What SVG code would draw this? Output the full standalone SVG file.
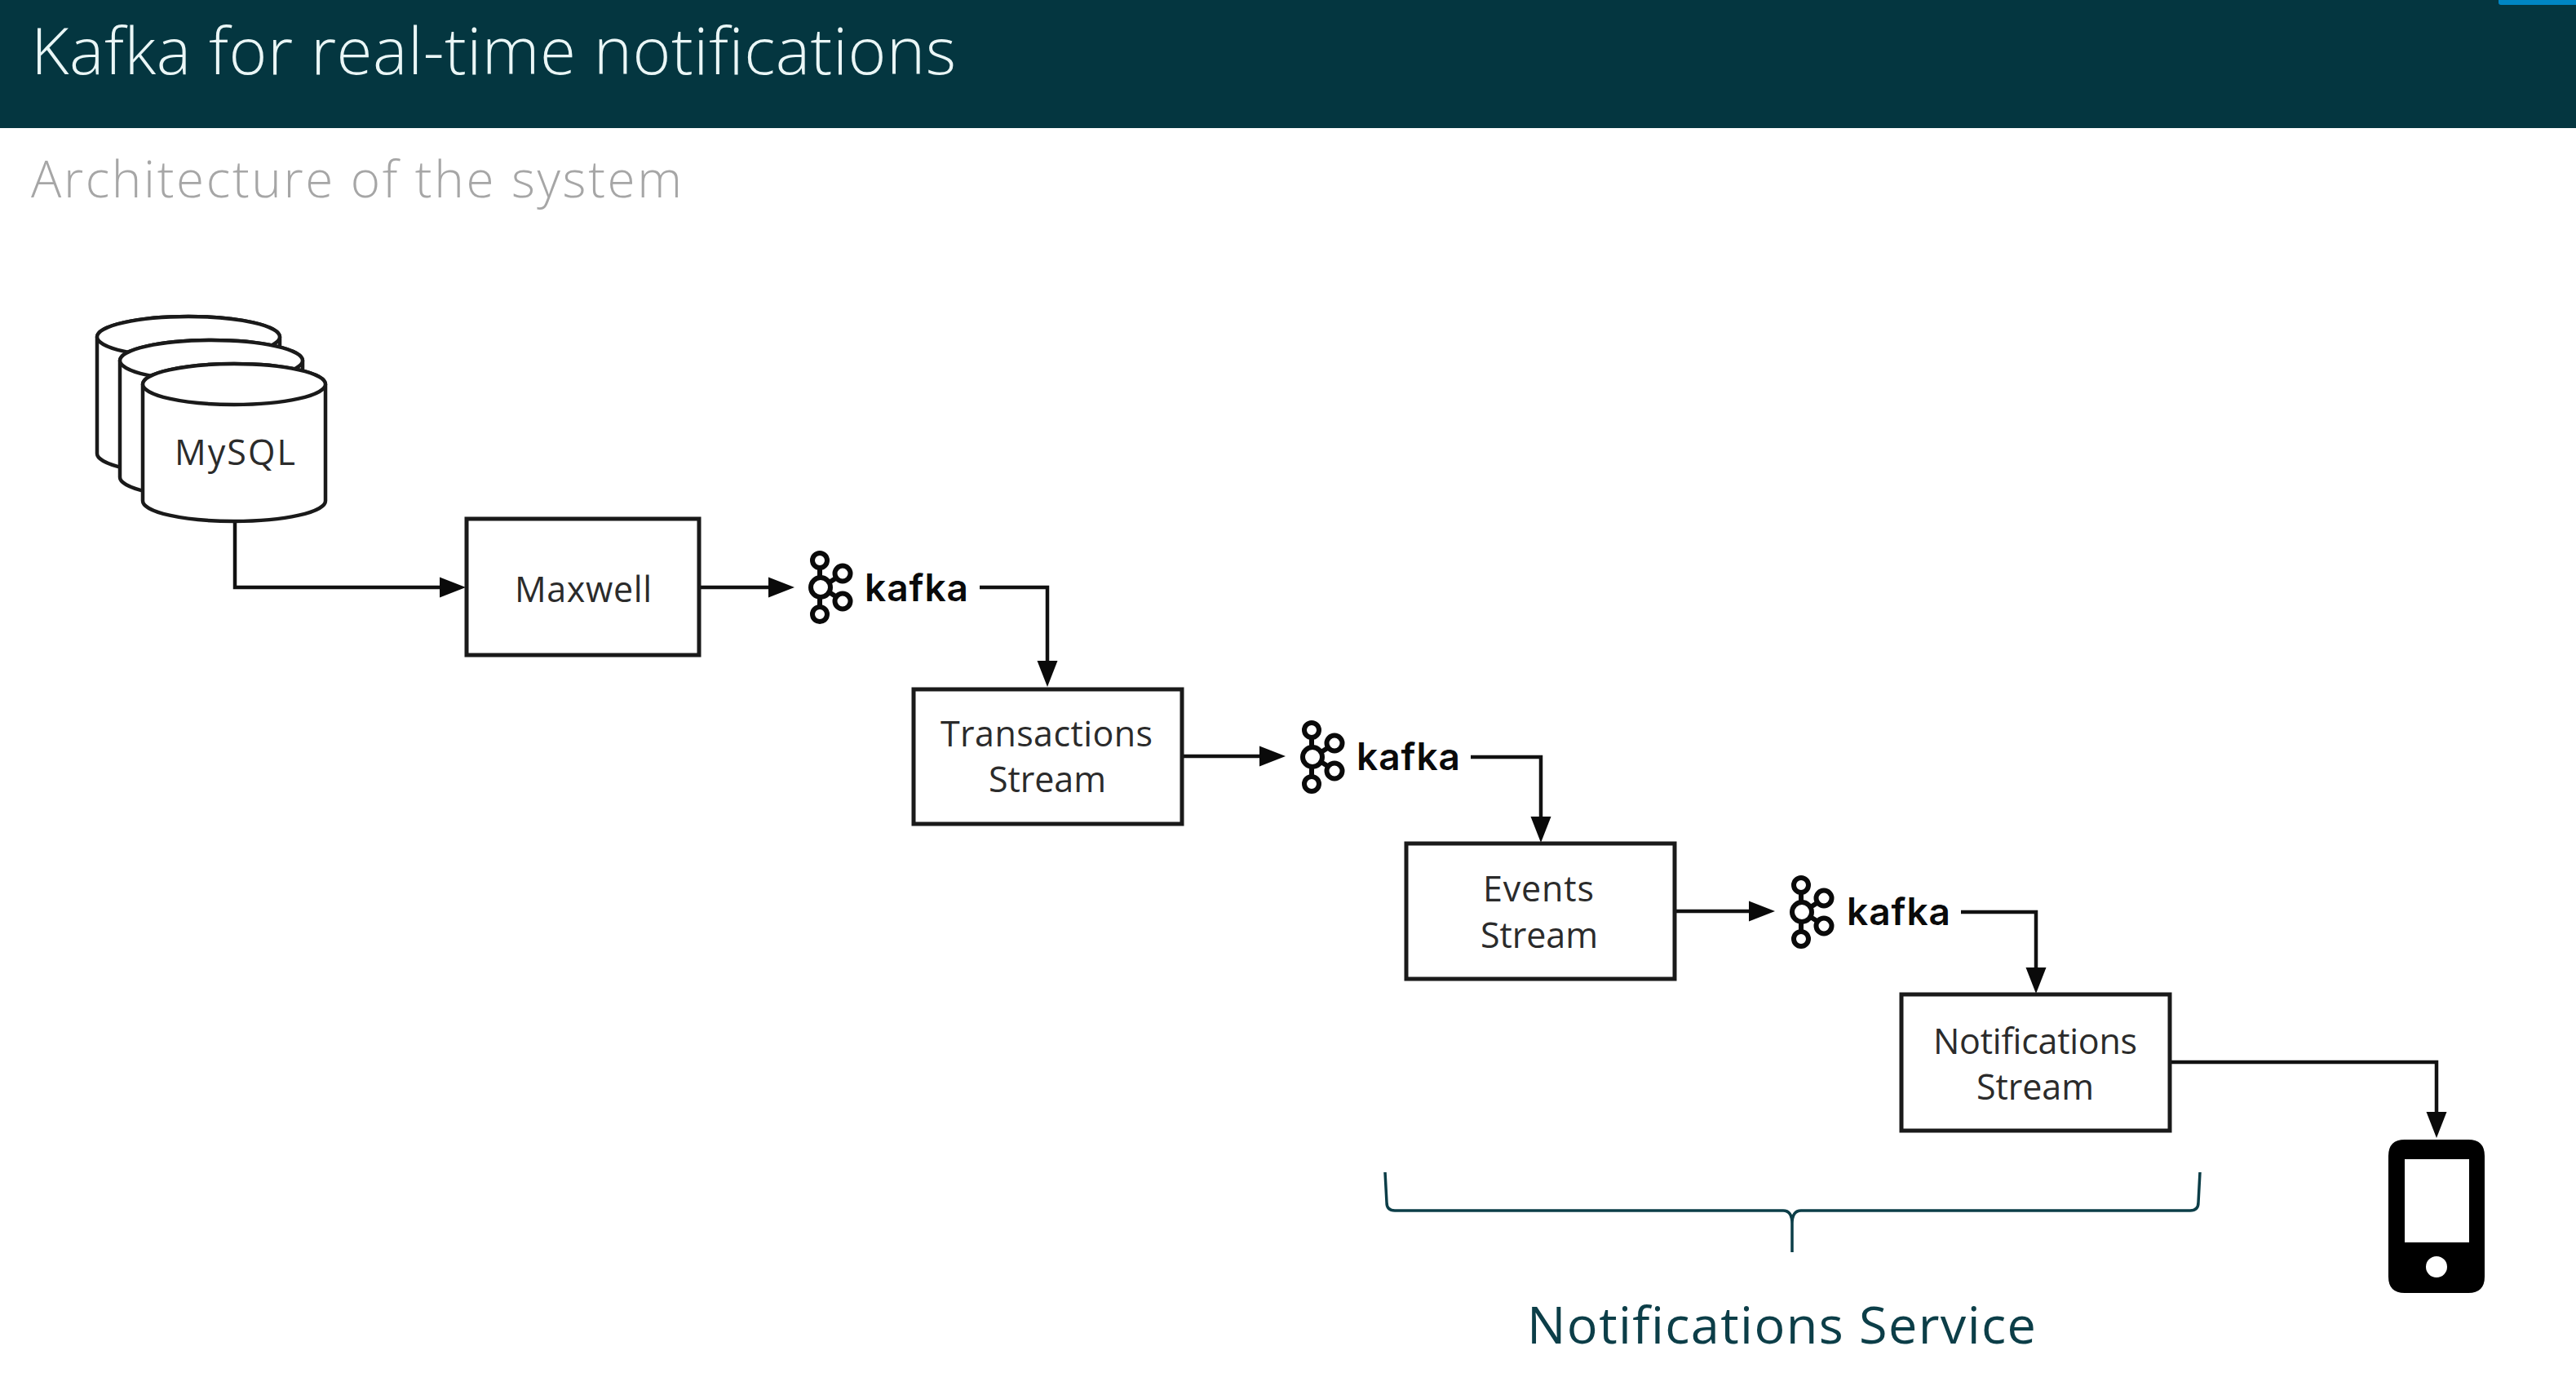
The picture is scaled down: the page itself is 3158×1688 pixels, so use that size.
<svg xmlns="http://www.w3.org/2000/svg" width="3158" height="1688" viewBox="0 0 3158 1688">
<style>
text{font-family:"Open Sans","Liberation Sans",sans-serif;font-variant-ligatures:none}
.box{fill:#fff;stroke:#1a1a1a;stroke-width:5}
.cyl{fill:#fff;stroke:#1a1a1a;stroke-width:4.5}
.lbl{font-size:43px;fill:#2b2b2b}
.kt{font-family:"Inter","Open Sans",sans-serif;font-size:46px;font-weight:600;fill:#0a0a0a}
.conn{fill:none;stroke:#111;stroke-width:4.5;stroke-linejoin:miter}
.kl{fill:none;stroke:#0a0a0a;stroke-width:6}
</style>
<defs>
<marker id="ah" markerUnits="userSpaceOnUse" markerWidth="32" markerHeight="25" viewBox="0 0 32 25" refX="22" refY="12.5" orient="auto" overflow="visible"><polygon points="0,0 32,12.5 0,25" fill="#0a0a0a"/></marker>
<g id="cylinder"><path class="cyl" d="M0,25V168A112,25 0 0 0 224,168V25A112,25 0 0 0 0,25Z"/><ellipse class="cyl" cx="112" cy="25" rx="112" ry="25"/></g>
<g id="klogo"><path class="kl" d="M-1,-25V-11M-1,11V25M9,-5L20,-12M9,5L20,12"/><circle class="kl" cx="-1" cy="-33" r="9"/><circle class="kl" cx="-1" cy="33" r="9"/><circle class="kl" cx="0" cy="0" r="12"/><circle class="kl" cx="27" cy="-17" r="9.5"/><circle class="kl" cx="27" cy="17" r="9.5"/></g>
</defs>
<rect width="3158" height="1688" fill="#fff"/>
<g id="header">
<rect width="3158" height="157" fill="#043640"/>
<path d="M3063,0H3158V6H3066Q3063,6 3063,3Z" fill="#0086c4"/>
<text x="38" y="91" font-size="80" font-weight="300" fill="#eaf6f6" textLength="1134">Kafka for real-time notifications</text>
<text x="38" y="242" font-size="62" font-weight="300" fill="#a6a6a6" textLength="798">Architecture of the system</text>
</g>
<g id="connectors">
<path class="conn" marker-end="url(#ah)" d="M288,638V720H561"/>
<path class="conn" marker-end="url(#ah)" d="M857,720H964"/>
<path class="conn" marker-end="url(#ah)" d="M1201,720H1284V832"/>
<path class="conn" marker-end="url(#ah)" d="M1449,927H1566"/>
<path class="conn" marker-end="url(#ah)" d="M1803,928H1889V1023"/>
<path class="conn" marker-end="url(#ah)" d="M2053,1117H2166"/>
<path class="conn" marker-end="url(#ah)" d="M2404,1118H2496V1208"/>
<path class="conn" marker-end="url(#ah)" d="M2660,1302H2987V1385"/>
</g>
<g id="mysql">
<use href="#cylinder" x="119" y="388"/>
<use href="#cylinder" x="147" y="417"/>
<use href="#cylinder" x="175" y="446"/>
<text class="lbl" x="214" y="570" textLength="148">MySQL</text>
</g>
<g id="maxwell"><rect class="box" x="572" y="636" width="285" height="167"/><text class="lbl" x="631" y="738" textLength="168">Maxwell</text></g>
<g id="kafka1"><use href="#klogo" x="1006" y="720"/><text class="kt" x="1060" y="737" textLength="127">kafka</text></g>
<g id="transactions"><rect class="box" x="1120" y="845" width="329" height="165"/><text class="lbl" x="1153" y="915" textLength="260">Transactions</text><text class="lbl" x="1212" y="971" textLength="144">Stream</text></g>
<g id="kafka2"><use href="#klogo" x="1609" y="928"/><text class="kt" x="1663" y="944" textLength="127">kafka</text></g>
<g id="events"><rect class="box" x="1724" y="1034" width="329" height="166"/><text class="lbl" x="1818" y="1105" textLength="136">Events</text><text class="lbl" x="1815" y="1162" textLength="144">Stream</text></g>
<g id="kafka3"><use href="#klogo" x="2209" y="1118"/><text class="kt" x="2264" y="1134" textLength="127">kafka</text></g>
<g id="notifications"><rect class="box" x="2331" y="1219" width="329" height="167"/><text class="lbl" x="2370" y="1292" textLength="250">Notifications</text><text class="lbl" x="2423" y="1348" textLength="144">Stream</text></g>
<g id="phone">
<path fill-rule="evenodd" fill="#000" d="M2948,1397H3026Q3046,1397 3046,1417V1565Q3046,1585 3026,1585H2948Q2928,1585 2928,1565V1417Q2928,1397 2948,1397ZM2948,1421V1523H3027V1421ZM3000,1553A13,13 0 1 0 2974,1553A13,13 0 1 0 3000,1553Z"/>
</g>
<g id="service">
<path fill="none" stroke="#0c3e48" stroke-width="3.5" d="M1698,1437L1700,1474Q1700,1484 1710,1484H2186Q2197,1484 2197,1500V1535M2697,1437L2695,1474Q2695,1484 2685,1484H2208Q2197,1484 2197,1500"/>
<text x="1872" y="1647" font-size="63" fill="#0c3e48" textLength="624">Notifications Service</text>
</g>
</svg>
